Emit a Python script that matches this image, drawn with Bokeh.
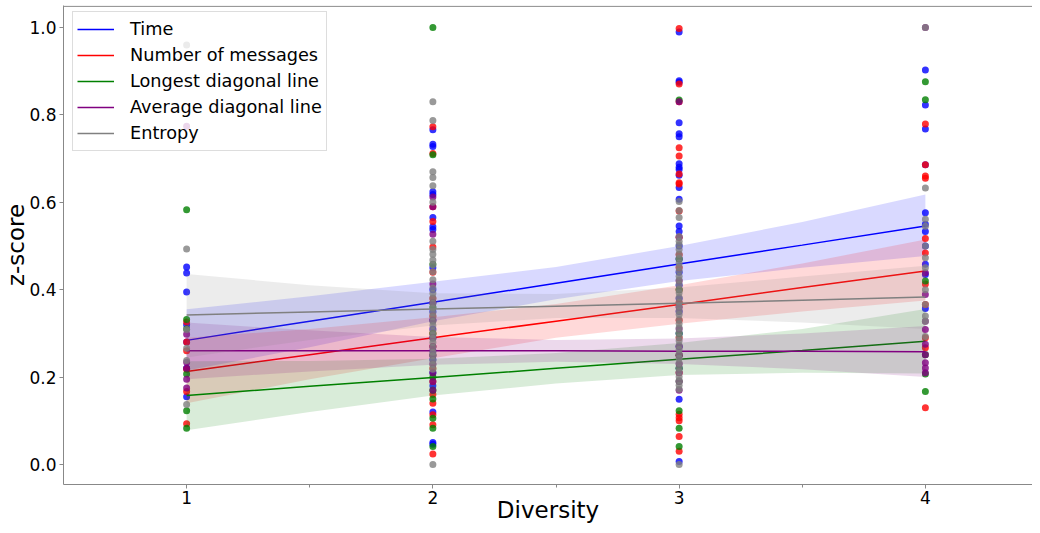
from bokeh.plotting import figure
from bokeh.models import FixedTicker, Legend, LegendItem, Range1d, NumeralTickFormatter, Span
from bokeh.embed import file_html
from bokeh.resources import INLINE

# ---------------- data ----------------
diversity_levels = [1, 2, 3, 4]
x_ticks = [1, 2, 3, 4]
x_minor = [1.5, 2.5, 3.5]
y_ticks = [0.0, 0.2, 0.4, 0.6, 0.8, 1.0]

series_names = ["Time", "Number of messages", "Longest diagonal line",
                "Average diagonal line", "Entropy"]
series_colors = ["blue", "red", "green", "purple", "gray"]

time_pts = {
    1: [0.452, 0.438, 0.395, 0.32, 0.28, 0.155, 0.22],
    2: [0.766, 0.733, 0.728, 0.624, 0.618, 0.565, 0.544, 0.538, 0.45, 0.40, 0.37,
        0.35, 0.33, 0.31, 0.29, 0.26, 0.24, 0.21, 0.18, 0.12, 0.05, 0.046],
    3: [0.99, 0.878, 0.875, 0.782, 0.757, 0.75, 0.688, 0.68, 0.675, 0.662, 0.634,
        0.607, 0.546, 0.533, 0.50, 0.47, 0.44, 0.41, 0.38, 0.35, 0.30, 0.27, 0.22,
        0.149, 0.007],
    4: [0.903, 0.823, 0.768, 0.686, 0.576, 0.55, 0.533, 0.50, 0.458, 0.435, 0.357],
}
messages_pts = {
    1: [0.326, 0.28, 0.218, 0.167, 0.093, 0.26],
    2: [0.773, 0.712, 0.59, 0.556, 0.498, 0.44, 0.38, 0.34, 0.30, 0.27, 0.22, 0.19,
        0.16, 0.14, 0.114, 0.091, 0.024],
    3: [0.998, 0.871, 0.83, 0.725, 0.706, 0.665, 0.645, 0.642, 0.58, 0.52, 0.48,
        0.45, 0.40, 0.37, 0.33, 0.29, 0.25, 0.21, 0.115, 0.107, 0.10, 0.064, 0.03],
    4: [0.779, 0.686, 0.66, 0.655, 0.517, 0.484, 0.413, 0.366, 0.29, 0.267, 0.13],
}
longest_pts = {
    1: [0.583, 0.332, 0.207, 0.123, 0.083, 0.31],
    2: [1.0, 0.709, 0.458, 0.36, 0.30, 0.25, 0.20, 0.17, 0.15, 0.106, 0.083, 0.041],
    3: [0.834, 0.47, 0.40, 0.30, 0.25, 0.22, 0.19, 0.123, 0.083, 0.041],
    4: [0.876, 0.835, 0.42, 0.251, 0.207, 0.167],
}
average_pts = {
    1: [0.774, 0.298, 0.234, 0.22, 0.195, 0.175],
    2: [0.612, 0.59, 0.527, 0.413, 0.37, 0.33, 0.29, 0.27, 0.25, 0.23, 0.21, 0.19, 0.17],
    3: [0.83, 0.52, 0.42, 0.36, 0.31, 0.27, 0.25, 0.23, 0.21, 0.19, 0.17],
    4: [1.0, 0.439, 0.389, 0.328, 0.309, 0.275, 0.251, 0.233, 0.221, 0.21],
}
entropy_pts = {
    1: [0.96, 0.493, 0.309, 0.266, 0.238, 0.137],
    2: [0.83, 0.787, 0.67, 0.657, 0.638, 0.60, 0.511, 0.492, 0.481, 0.468, 0.457,
        0.441, 0.423, 0.404, 0.392, 0.381, 0.369, 0.358, 0.347, 0.338, 0.327, 0.318,
        0.306, 0.297, 0.288, 0.279, 0.268, 0.257, 0.249, 0.238, 0.229, 0.218, 0.0],
    3: [0.602, 0.581, 0.565, 0.522, 0.511, 0.503, 0.492, 0.481, 0.472, 0.461, 0.452,
        0.443, 0.431, 0.422, 0.412, 0.401, 0.393, 0.382, 0.371, 0.362, 0.352, 0.343,
        0.331, 0.322, 0.313, 0.302, 0.292, 0.283, 0.272, 0.263, 0.252, 0.243, 0.232,
        0.221, 0.212, 0.201, 0.192, 0.181, 0.172, 0.0],
    4: [1.0, 0.633, 0.561, 0.545, 0.50, 0.473, 0.45, 0.40, 0.366, 0.34, 0.328, 0.293],
}

# regression fits and confidence bands
fit_x = [1.0, 1.5, 2.0, 2.5, 3.0, 3.5, 4.0]
time_fit = [0.284, 0.328, 0.371, 0.415, 0.459, 0.502, 0.546]
time_lo = [0.215, 0.268, 0.328, 0.378, 0.420, 0.450, 0.477]
time_hi = [0.355, 0.385, 0.418, 0.452, 0.500, 0.555, 0.618]
messages_fit = [0.213, 0.251, 0.290, 0.328, 0.366, 0.405, 0.443]
messages_lo = [0.140, 0.195, 0.243, 0.290, 0.322, 0.350, 0.375]
messages_hi = [0.290, 0.310, 0.337, 0.367, 0.410, 0.460, 0.515]
longest_fit = [0.158, 0.179, 0.199, 0.220, 0.241, 0.261, 0.282]
longest_lo = [0.078, 0.120, 0.158, 0.185, 0.205, 0.210, 0.208]
longest_hi = [0.236, 0.237, 0.242, 0.255, 0.278, 0.310, 0.356]
average_fit = [0.260, 0.260, 0.260, 0.260, 0.259, 0.259, 0.258]
average_lo = [0.195, 0.213, 0.228, 0.235, 0.230, 0.218, 0.200]
average_hi = [0.325, 0.307, 0.292, 0.285, 0.288, 0.300, 0.317]
entropy_fit = [0.342, 0.349, 0.356, 0.362, 0.369, 0.376, 0.383]
entropy_lo = [0.245, 0.285, 0.318, 0.335, 0.335, 0.325, 0.310]
entropy_hi = [0.436, 0.410, 0.392, 0.390, 0.405, 0.430, 0.455]

all_pts = [time_pts, messages_pts, longest_pts, average_pts, entropy_pts]
all_fit = [time_fit, messages_fit, longest_fit, average_fit, entropy_fit]
all_lo = [time_lo, messages_lo, longest_lo, average_lo, entropy_lo]
all_hi = [time_hi, messages_hi, longest_hi, average_hi, entropy_hi]

# ---------------- figure ----------------
FONT = "DejaVu Sans"
Y_TOP = 1.0505
p = figure(width=1032, height=525, output_backend="svg", toolbar_location=None,
           x_range=Range1d(0.5, 4.435), y_range=Range1d(-0.0459, Y_TOP),
           min_border_left=55, min_border_right=0, min_border_top=5, min_border_bottom=0,
           background_fill_color="white", border_fill_color="white")
p.grid.visible = False
p.outline_line_color = None
# top spine only (the right spine lies outside the picture in the original)
p.add_layout(Span(location=Y_TOP - 0.002, dimension="width",
                  line_color="#999999", line_width=1.2))

items = []
for name, color, pts, fit, lo, hi in zip(series_names, series_colors, all_pts,
                                         all_fit, all_lo, all_hi):
    xs, ys = [], []
    for d in diversity_levels:
        xs += [d] * len(pts[d])
        ys += pts[d]
    p.scatter(xs, ys, size=7, fill_color=color, fill_alpha=0.8, line_color=None)
    r = p.line(fit_x, fit, line_color=color, line_width=1.5)
    p.varea(x=fit_x, y1=lo, y2=hi, fill_color=color, fill_alpha=0.15)
    items.append(LegendItem(label=name, renderers=[r]))

legend = Legend(items=items, location=(9, 333), label_text_font=FONT,
                label_text_font_size="17.7px", label_text_color="black",
                glyph_width=37, glyph_height=26, label_height=26, spacing=0,
                padding=4, margin=0, label_standoff=16,
                border_line_color="#dddddd", border_line_alpha=1.0,
                background_fill_alpha=0.8)
p.add_layout(legend)

xa = p.xaxis[0]
xa.ticker = FixedTicker(ticks=x_ticks, minor_ticks=x_minor)
xa.axis_label = "Diversity"
ya = p.yaxis[0]
ya.ticker = FixedTicker(ticks=y_ticks)
ya.formatter = NumeralTickFormatter(format="0.0")
ya.axis_label = "z-score"
for ax in (xa, ya):
    ax.axis_label_text_font = FONT
    ax.axis_label_text_font_size = "23px"
    ax.axis_label_text_font_style = "normal"
    ax.axis_label_text_color = "black"
    ax.major_label_text_font = FONT
    ax.major_label_text_font_size = "17px"
    ax.major_label_text_color = "black"
    ax.axis_line_color = "#888888"
    ax.major_tick_line_color = "#888888"
    ax.minor_tick_line_color = "#888888"
    ax.major_tick_in = 0
    ax.major_tick_out = 4
    ax.minor_tick_in = 0
    ax.minor_tick_out = 3
ya.minor_tick_line_color = None
xa.major_label_standoff = 2
xa.axis_label_standoff = -10
ya.major_label_standoff = 3
ya.axis_label_standoff = -3

open("out.html", "w").write(file_html(p, INLINE))
